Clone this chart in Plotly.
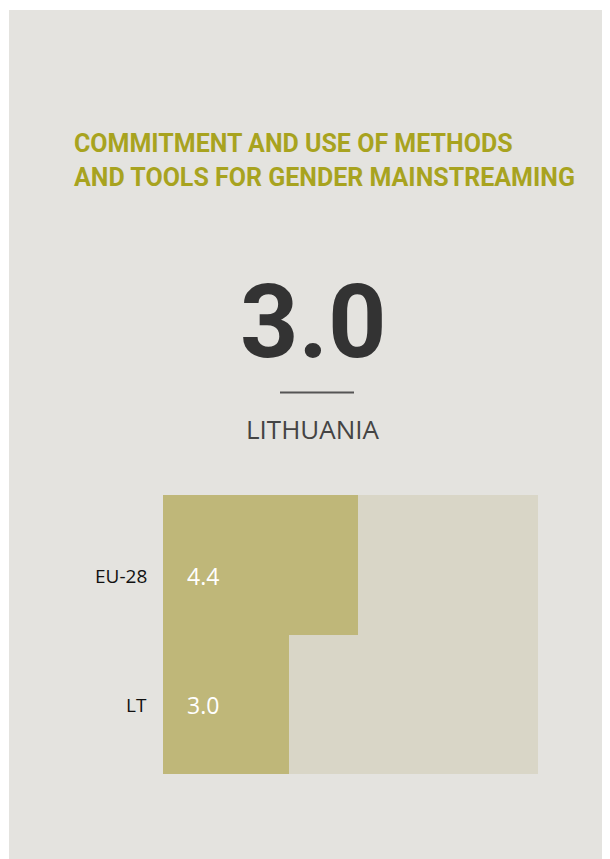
import plotly.graph_objects as go

# ---- data ----
categories = ["EU-28", "LT"]
scores = [4.4, 3.0]
scale_min = 0.44
scale_max = 8.05
country_score = 3.0
country_name = "LITHUANIA"
title_lines = ["COMMITMENT AND USE OF METHODS", "AND TOOLS FOR GENDER MAINSTREAMING"]

# ---- layout geometry (screen pixels; page body has an 8px margin) ----
OFF = 8
W, H = 610 - OFF, 859 - OFF
ML = 163 - OFF
MT = 495 - OFF
MR = W - (538 - OFF)
MB = H - (774 - OFF)
PW, PH = W - ML - MR, H - MT - MB


def px_x(p):
    return (p - OFF - ML) / PW


def px_y(p):
    return (H - MB - (p - OFF)) / PH


fig = go.Figure()
fig.add_trace(go.Bar(
    y=categories, x=[scale_max] * len(categories), orientation="h",
    marker=dict(color="#d9d6c7", line=dict(width=0)), hoverinfo="skip", showlegend=False,
))
fig.add_trace(go.Bar(
    y=categories, x=scores, orientation="h",
    marker=dict(color="#bfb779", line=dict(width=0)), showlegend=False,
))

label_yshift = [-11, -1]
annotations = []
for cat, val, ys in zip(categories, scores, label_yshift):
    annotations.append(dict(
        x=scale_min, y=cat, xref="x", yref="y", text=f"{val:.1f}", showarrow=False,
        xanchor="left", yanchor="middle", xshift=22, yshift=ys,
        font=dict(family="Open Sans", size=23, color="#ffffff"),
    ))
    annotations.append(dict(
        x=0, y=cat, xref="paper", yref="y", text=cat, showarrow=False,
        xanchor="right", yanchor="middle", xshift=-14, yshift=ys,
        font=dict(family="Open Sans", size=19, color="#111111"),
    ))

title_y = [144, 178]
for line, yy in zip(title_lines, title_y):
    annotations.append(dict(
        x=px_x(72), y=px_y(yy), xref="paper", yref="paper", text=f"<b>{line}</b>",
        showarrow=False, xanchor="left", yanchor="middle",
        font=dict(family="Roboto", size=25, color="#a8a31f"),
    ))

annotations.append(dict(
    x=px_x(313), y=px_y(322), xref="paper", yref="paper", text=f"<b>{country_score:.1f}</b>",
    showarrow=False, xanchor="center", yanchor="middle",
    font=dict(family="Roboto", size=102, color="#333333"),
))
annotations.append(dict(
    x=px_x(313), y=px_y(429), xref="paper", yref="paper", text=country_name,
    showarrow=False, xanchor="center", yanchor="middle",
    font=dict(family="Open Sans", size=26, color="#444444"),
))

shapes = [
    dict(type="rect", xref="paper", yref="paper", x0=px_x(9), x1=px_x(611),
         y0=px_y(860), y1=px_y(10), fillcolor="#e4e3df", line=dict(width=0), layer="below"),
    dict(type="line", xref="paper", yref="paper", x0=px_x(280), x1=px_x(354),
         y0=px_y(392.5), y1=px_y(392.5), line=dict(color="#555555", width=2)),
]

fig.update_layout(
    width=W, height=H, autosize=False,
    margin=dict(l=ML, r=MR, t=MT, b=MB, pad=0),
    paper_bgcolor="#ffffff", plot_bgcolor="rgba(0,0,0,0)",
    barmode="overlay", bargap=0,
    xaxis=dict(range=[scale_min, scale_max], visible=False, fixedrange=True),
    yaxis=dict(categoryorder="array", categoryarray=categories, autorange="reversed",
               showticklabels=False, showgrid=False, zeroline=False, fixedrange=True),
    annotations=annotations, shapes=shapes,
)

fig.write_html("out.html", config={"displayModeBar": False})
